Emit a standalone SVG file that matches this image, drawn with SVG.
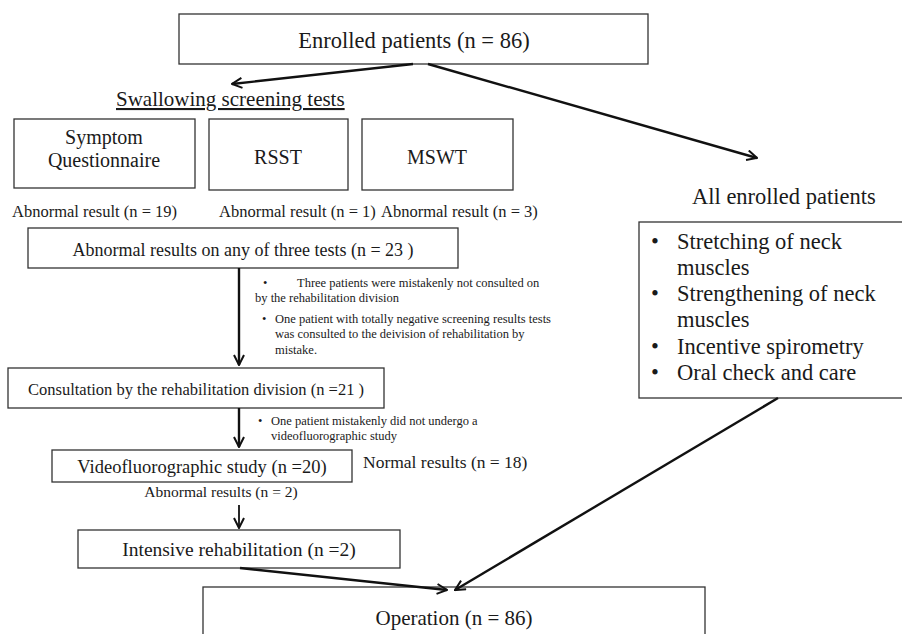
<svg xmlns="http://www.w3.org/2000/svg" width="902" height="634" viewBox="0 0 902 634" font-family="Liberation Serif, Times New Roman, serif">
<defs>
<style>
text{font-family:'Liberation Serif','Times New Roman',serif;fill:#1a1a1a}
.box{fill:#fff;stroke:#333;stroke-width:1.3}
.big{font-size:22.5px}
.mid{font-size:20px}
.lab{font-size:16.5px}
.note{font-size:12.5px}
.c{text-anchor:middle}
.conn line{stroke:#111;stroke-width:2.4}
</style>
<marker id="ah" viewBox="0 0 12 12" refX="11" refY="6" markerWidth="12" markerHeight="12" markerUnits="userSpaceOnUse" orient="auto">
<path d="M1,1 L11,6 L1,11" fill="none" stroke="#111" stroke-width="2"/>
</marker>
</defs>
<rect width="902" height="634" fill="#fff"/>
<g id="enrolled"><rect class="box" x="179" y="14" width="469" height="50"/><text class="big c" x="414" y="48">Enrolled patients (n = 86)</text></g>
<g id="screening-title"><text x="116" y="106" font-size="21" text-decoration="underline">Swallowing screening tests</text></g>
<g id="symptom"><rect class="box" x="14" y="119" width="181" height="69"/><text class="mid c" x="104" y="144">Symptom</text><text class="mid c" x="104" y="167">Questionnaire</text></g>
<g id="rsst"><rect class="box" x="209" y="119" width="139" height="71"/><text class="mid c" x="278" y="164">RSST</text></g>
<g id="mswt"><rect class="box" x="362" y="119" width="151" height="71"/><text class="mid c" x="437" y="164">MSWT</text></g>
<g id="labels1"><text class="lab" x="12" y="217">Abnormal result (n = 19)</text><text class="lab" x="219" y="217">Abnormal result (n = 1)</text><text class="lab" x="381" y="217">Abnormal result (n = 3)</text></g>
<g id="abnormal-any"><rect class="box" x="28" y="228" width="430" height="40"/><text class="c" font-size="18" x="243" y="256">Abnormal results on any of three tests (n = 23 )</text></g>
<g id="note1" class="note"><text x="263" y="287">•</text><text x="297" y="287">Three patients were mistakenly not consulted on</text><text x="255" y="302">by the rehabilitation division</text><text x="262" y="323">•</text><text x="275" y="323">One patient with totally negative screening results tests</text><text x="275" y="338">was consulted to the deivision of rehabilitation by</text><text x="275" y="354">mistake.</text></g>
<g id="consultation"><rect class="box" x="8" y="368" width="376" height="40"/><text class="c" font-size="16.5" x="196" y="395">Consultation by the rehabilitation division (n =21 )</text></g>
<g id="note2" class="note"><text x="258" y="425">•</text><text x="271" y="425">One patient mistakenly did not undergo a</text><text x="271" y="440">videofluorographic study</text></g>
<g id="video"><rect class="box" x="52" y="450" width="300" height="32"/><text class="c" font-size="18.5" x="202" y="473">Videofluorographic study (n =20)</text></g>
<g id="normal"><text font-size="17.5" x="363" y="468">Normal results (n = 18)</text></g>
<g id="abn2"><text class="c" font-size="15.5" x="221" y="497">Abnormal results (n = 2)</text></g>
<g id="intensive"><rect class="box" x="78" y="530" width="322" height="38"/><text class="c" font-size="19.5" x="239" y="556">Intensive rehabilitation (n =2)</text></g>
<g id="operation"><rect class="box" x="203" y="587" width="502" height="60"/><text class="c" font-size="21" x="454" y="625">Operation (n = 86)</text></g>
<g id="all-title"><text class="big" x="692" y="204">All enrolled patients</text></g>
<g id="all-box"><rect class="box" x="639" y="222" width="270" height="176"/>
<text class="big" x="651" y="249">•</text><text class="big" x="677" y="249">Stretching of neck</text>
<text class="big" x="677" y="275">muscles</text>
<text class="big" x="651" y="301">•</text><text class="big" x="677" y="301">Strengthening of neck</text>
<text class="big" x="677" y="327">muscles</text>
<text class="big" x="651" y="354">•</text><text class="big" x="677" y="354">Incentive spirometry</text>
<text class="big" x="651" y="380">•</text><text class="big" x="677" y="380">Oral check and care</text></g>
<g id="connectors" class="conn">
<line x1="413" y1="64" x2="232" y2="84" marker-end="url(#ah)"/>
<line x1="428" y1="64" x2="757" y2="158" marker-end="url(#ah)"/>
<line x1="239" y1="268" x2="239" y2="365" marker-end="url(#ah)"/>
<line x1="239" y1="408" x2="239" y2="447" marker-end="url(#ah)"/>
<line x1="239" y1="505" x2="239" y2="528" marker-end="url(#ah)" style="stroke-width:1.8"/>
<line x1="240" y1="568" x2="447" y2="590" marker-end="url(#ah)"/>
<line x1="778" y1="398" x2="455" y2="590" marker-end="url(#ah)"/>
</g>
</svg>
